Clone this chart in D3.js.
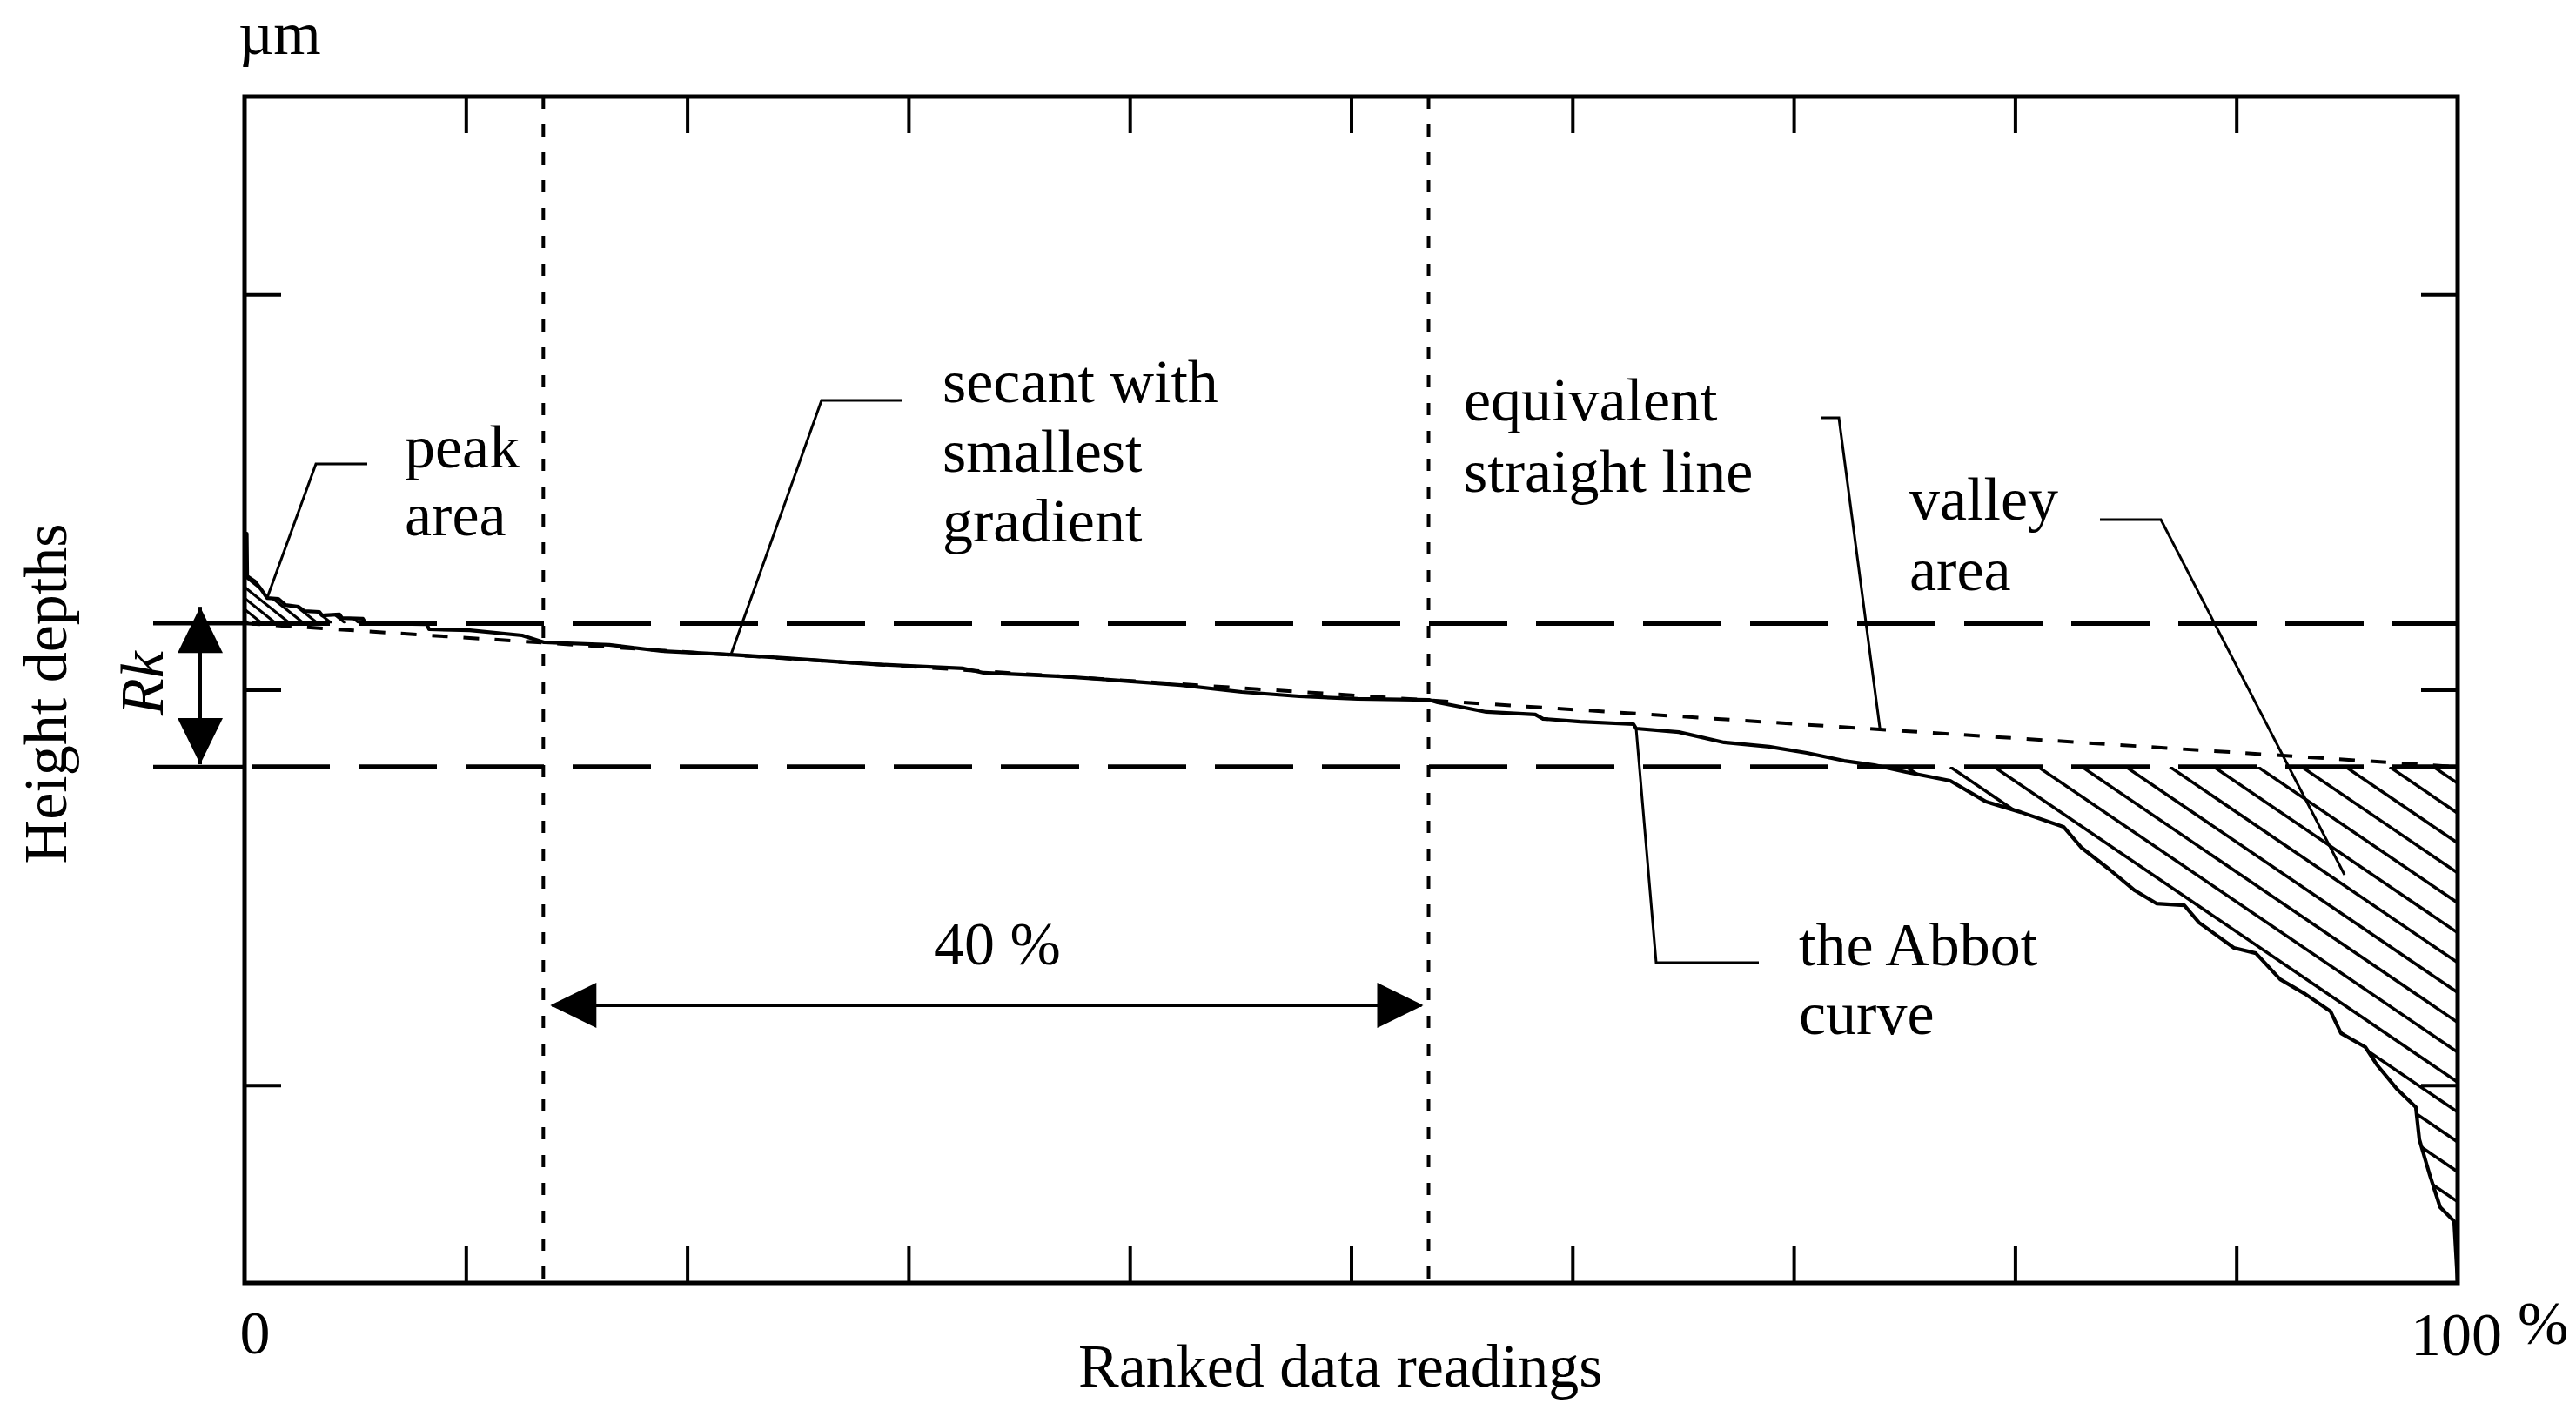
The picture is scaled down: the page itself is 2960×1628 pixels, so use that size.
<!DOCTYPE html>
<html>
<head>
<meta charset="utf-8">
<style>
  body { margin: 0; background: #ffffff; }
  svg { display: block; }
  text { font-family: "Liberation Serif", "Times New Roman", serif; font-size: 70px; fill: #000; }
</style>
</head>
<body>
<script src="https://d3js.org/d3.v7.min.js"></script>
<script>
// ranked data readings (%) and height (µm, arbitrary units) of the Abbott curve
var curvePct = [0, 0.1, 0.12, 0.47, 0.75, 1.02, 1.53, 1.85, 2.44, 2.71, 3.38, 3.5, 4.29, 4.4, 5.35, 5.47,
  8.22, 8.34, 10.18, 12.54, 13.53, 16.48, 18.84, 21.98, 24.34, 28.27, 32.48, 33.39, 36.92, 39.68,
  42.31, 45.06, 47.66, 50.29, 53.52, 53.91, 54.93, 56.11, 58.32, 58.67, 60.36, 62.76, 62.88, 64.81,
  66.85, 68.89, 70.59, 72.28, 73.65, 75.07, 77.07, 78.69, 80.26, 82.19, 83.01, 84.27, 85.41, 86.39,
  87.65, 88.32, 89.89, 90.88, 91.98, 93.12, 94.26, 94.73, 95.83, 96.34, 97.29, 98.11, 98.27, 98.74,
  99.21, 99.84, 100];
var curveHeight = [3.79, 3.79, 3.574, 3.548, 3.508, 3.464, 3.46, 3.429, 3.42, 3.398, 3.394, 3.376, 3.381, 3.363, 3.359, 3.336,
  3.332, 3.306, 3.301, 3.275, 3.24, 3.227, 3.196, 3.178, 3.161, 3.13, 3.108, 3.086, 3.068, 3.046,
  3.024, 2.989, 2.967, 2.954, 2.949, 2.936, 2.914, 2.888, 2.875, 2.853, 2.839, 2.826, 2.804, 2.786,
  2.734, 2.712, 2.681, 2.641, 2.619, 2.584, 2.54, 2.434, 2.381, 2.307, 2.201, 2.091, 1.985, 1.919,
  1.91, 1.822, 1.695, 1.668, 1.536, 1.461, 1.373, 1.263, 1.193, 1.105, 0.977, 0.889, 0.726, 0.546,
  0.383, 0.313, 0];

var rkLevels = [3.336, 2.61];        // upper and lower limit of the core roughness
var secantWindow = [13.5, 53.5];     // 40 % window of the secant
var xTicks = [10, 20, 30, 40, 50, 60, 70, 80, 90];
var yTicks = [1, 3, 5];

var W = 2960, H = 1628;
var svg = d3.select("body").append("svg")
  .attr("width", W).attr("height", H);

var x = d3.scaleLinear().domain([0, 100]).range([281, 2824]);
var y = d3.scaleLinear().domain([0, 6]).range([1474, 111]);

var curve = curvePct.map(function (p, i) { return [p, curveHeight[i]]; });

// clip regions for the hatching
var defs = svg.append("defs");
defs.append("clipPath").attr("id", "peakClip")
  .append("path")
  .attr("d", d3.area()
    .x(function (d) { return x(d[0]); })
    .y0(y(rkLevels[0]))
    .y1(function (d) { return Math.min(y(d[1]), y(rkLevels[0])); })(curve));
defs.append("clipPath").attr("id", "valleyClip")
  .append("path")
  .attr("d", d3.area()
    .x(function (d) { return x(d[0]); })
    .y0(y(rkLevels[1]))
    .y1(function (d) { return Math.max(y(d[1]), y(rkLevels[1])); })(curve));

function hatch(clip, top, bottom, start, step, slope, from, to, width) {
  var g = svg.append("g").attr("clip-path", "url(#" + clip + ")");
  var k0 = Math.floor((from - start) / step), k1 = Math.ceil((to - start) / step);
  for (var k = k0; k <= k1; k++) {
    var c = start + k * step;
    g.append("line")
      .attr("x1", c).attr("y1", top)
      .attr("x2", c + (bottom - top) / slope).attr("y2", bottom)
      .attr("stroke", "#000").attr("stroke-width", width);
  }
}
hatch("peakClip", y(3.9), y(rkLevels[0]), x(0) + 4, 16, 0.8, x(0) - 200, x(7), 3.2);
hatch("valleyClip", y(rkLevels[1]), y(0), x(77.07), 50.5, 0.68, x(40), x(100), 3.6);

// axes with inward ticks
svg.append("g").attr("transform", "translate(0," + y(0) + ")")
  .call(d3.axisBottom(x).tickValues(xTicks).tickSize(-42).tickFormat(""));
svg.append("g").attr("transform", "translate(0," + y(6) + ")")
  .call(d3.axisTop(x).tickValues(xTicks).tickSize(-42).tickFormat(""));
svg.append("g").attr("transform", "translate(" + x(0) + ",0)")
  .call(d3.axisLeft(y).tickValues(yTicks).tickSize(-42).tickFormat(""));
svg.append("g").attr("transform", "translate(" + x(100) + ",0)")
  .call(d3.axisRight(y).tickValues(yTicks).tickSize(-42).tickFormat(""));
svg.selectAll(".domain").remove();
svg.selectAll(".tick line").attr("stroke", "#000").attr("stroke-width", 4);

svg.append("rect")
  .attr("x", x(0)).attr("y", y(6))
  .attr("width", x(100) - x(0)).attr("height", y(0) - y(6))
  .attr("fill", "none").attr("stroke", "#000").attr("stroke-width", 5);

// Rk limits: solid extension left of the frame, long dashes inside
rkLevels.forEach(function (v) {
  svg.append("line")
    .attr("x1", x(0) - 105).attr("x2", x(0))
    .attr("y1", y(v)).attr("y2", y(v))
    .attr("stroke", "#000").attr("stroke-width", 4.5);
  svg.append("line")
    .attr("x1", x(0)).attr("x2", x(100))
    .attr("y1", y(v)).attr("y2", y(v))
    .attr("stroke", "#000").attr("stroke-width", 5.5)
    .attr("stroke-dasharray", "90,33").attr("stroke-dashoffset", 115);
});

// vertical limits of the 40 % window
secantWindow.forEach(function (p) {
  svg.append("line")
    .attr("x1", x(p)).attr("x2", x(p))
    .attr("y1", y(6)).attr("y2", y(0))
    .attr("stroke", "#000").attr("stroke-width", 4)
    .attr("stroke-dasharray", "14,18");
});

// equivalent straight line
svg.append("line")
  .attr("x1", x(0)).attr("y1", y(rkLevels[0]))
  .attr("x2", x(100)).attr("y2", y(rkLevels[1]))
  .attr("stroke", "#000").attr("stroke-width", 4)
  .attr("stroke-dasharray", "18,18");

// the Abbott curve
svg.append("path")
  .datum(curve)
  .attr("d", d3.line().x(function (d) { return x(d[0]); }).y(function (d) { return y(d[1]); }))
  .attr("fill", "none").attr("stroke", "#000").attr("stroke-width", 4.2)
  .attr("stroke-linejoin", "round");

// double arrows
function arrowHead(tx, ty, dx, dy) {
  // tip at (tx,ty), pointing in direction (dx,dy)
  var L = 53, Hw = 26, nx = -dy, ny = dx;
  var bx = tx - dx * L, by = ty - dy * L;
  svg.append("path")
    .attr("d", "M" + tx + "," + ty + "L" + (bx + nx * Hw) + "," + (by + ny * Hw) +
      "L" + (bx - nx * Hw) + "," + (by - ny * Hw) + "Z")
    .attr("fill", "#000");
}
var arrowY = y(1.404);
svg.append("line")
  .attr("x1", x(secantWindow[0]) + 10).attr("x2", x(secantWindow[1]) - 8)
  .attr("y1", arrowY).attr("y2", arrowY)
  .attr("stroke", "#000").attr("stroke-width", 4);
arrowHead(x(secantWindow[0]) + 8, arrowY, -1, 0);
arrowHead(x(secantWindow[1]) - 6, arrowY, 1, 0);

var rkX = x(0) - 51;
svg.append("line")
  .attr("x1", rkX).attr("x2", rkX)
  .attr("y1", y(rkLevels[0]) - 19).attr("y2", y(rkLevels[1]) - 3)
  .attr("stroke", "#000").attr("stroke-width", 4);
arrowHead(rkX, y(rkLevels[0]) - 19, 0, -1);
arrowHead(rkX, y(rkLevels[1]) - 3, 0, 1);

// leader lines
var leaders = [
  [[422, 533], [363, 533], [x(1.02), y(3.464)]],
  [[1037, 460], [944, 460], [x(21.98), y(3.178)]],
  [[2092, 480], [2113, 480], [x(73.9), y(rkLevels[0] + (rkLevels[1] - rkLevels[0]) * 0.739)]],
  [[2413, 597], [2483, 597], [2694, 1005]],
  [[2021, 1106], [1903, 1106], [x(62.88), y(2.804)]]
];
leaders.forEach(function (pts) {
  svg.append("path")
    .attr("d", d3.line()(pts))
    .attr("fill", "none").attr("stroke", "#000").attr("stroke-width", 3);
});

// text
function label(str, tx, ty, anchor) {
  return svg.append("text").attr("x", tx).attr("y", ty)
    .attr("text-anchor", anchor || "start").text(str);
}
label("µm", 274, 62);
label("peak", 465, 537);
label("area", 465, 615);
label("secant with", 1083, 462);
label("smallest", 1083, 542);
label("gradient", 1083, 622);
label("equivalent", 1682, 483);
label("straight line", 1682, 565);
label("valley", 2194, 597);
label("area", 2194, 678);
label("the Abbot", 2067, 1109);
label("curve", 2067, 1188);
label("40 %", 1073, 1108);
label("0", 293, 1555, "middle");
label("100", 2770, 1557);
label("%", 2893, 1544);
label("Ranked data readings", 1239, 1593);

svg.append("text")
  .attr("transform", "translate(76,797) rotate(-90)")
  .attr("text-anchor", "middle")
  .text("Height depths");
svg.append("text")
  .attr("transform", "translate(187,785) rotate(-90)")
  .attr("text-anchor", "middle")
  .style("font-style", "italic")
  .text("Rk");
</script>
</body>
</html>
